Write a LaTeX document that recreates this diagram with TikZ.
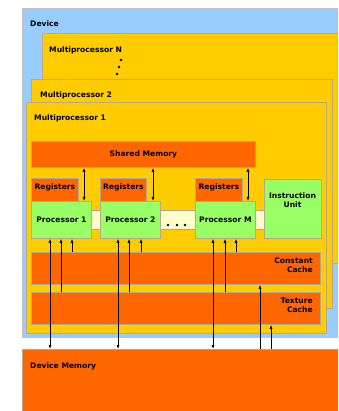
\documentclass[tikz,border=0pt]{standalone}
\usepackage{fontspec}
\setmainfont{DejaVu Sans}
\usetikzlibrary{arrows.meta}
\definecolor{devblue}{HTML}{99CCFF}
\definecolor{mpyellow}{HTML}{FFCC00}
\definecolor{memorange}{HTML}{FF6600}
\definecolor{procgreen}{HTML}{99FF66}
\definecolor{barcream}{HTML}{FFFFCC}
\definecolor{edgecol}{RGB}{184,168,136}
\definecolor{devedge}{RGB}{192,192,192}
\begin{document}
\begin{tikzpicture}[x=1pt,y=-1pt,
  lbl/.style={font=\fontsize{7.6}{9.2}\selectfont\bfseries, inner sep=0pt},
  panel/.style={draw=edgecol, line width=0.8pt, inner sep=0pt, anchor=north west},
  mem/.style={panel, fill=memorange},
  proc/.style={panel, fill=procgreen, font=\fontsize{7.6}{9.2}\selectfont\bfseries},
  dotmark/.style={circle, fill=black, inner sep=0pt, minimum size=2.6pt},
  tip/.style={-{Latex[length=4pt,width=3pt]}},
  dbl/.style={{Latex[length=4pt,width=3pt]}-{Latex[length=4pt,width=3pt]}, line width=0.7pt},
  up/.style={tip, line width=0.7pt}]
\useasboundingbox (0,0) rectangle (338,411);
\clip (0,0) rectangle (338,411);

% device and the stacked multiprocessors (running off the right edge)
\node[panel, draw=devedge, fill=devblue, minimum width=400pt, minimum height=329pt] (dev) at (22,8) {};
\node[lbl, anchor=base west] (tdev) at (30,27) {Device};
\node[panel, fill=mpyellow, minimum width=400pt, minimum height=230pt] (mpn) at (42,33) {};
\node[lbl, anchor=base west] (tmpn) at (49,52.5) {Multiprocessor N};
\node[dotmark] (v1) at (121,60) {};
\node[dotmark] (v2) at (119,67) {};
\node[dotmark] (v3) at (117,74) {};
\node[panel, fill=mpyellow, minimum width=301pt, minimum height=229pt] (mp2) at (31,79) {};
\node[lbl, anchor=base west] (tmp2) at (40,97.5) {Multiprocessor 2};
\node[panel, fill=mpyellow, minimum width=300pt, minimum height=231pt] (mp1) at (26,102) {};
\node[lbl, anchor=base west] (tmp1) at (34,120.5) {Multiprocessor 1};

% shared memory
\node[mem, minimum width=224pt, minimum height=26pt] (sm) at (31,141) {};
\node[lbl] (tsm) at (sm.center) {Shared Memory};

% processor bus
\node[panel, fill=barcream, minimum width=173pt, minimum height=19pt] (bus) at (91,210) {};
\node[dotmark] (b1) at (168,225) {};
\node[dotmark] (b2) at (177,225) {};
\node[dotmark] (b3) at (185,225) {};

% registers and processors
\node[mem, minimum width=47pt, minimum height=23pt] (r1) at (31,178) {};
\node[mem, minimum width=46pt, minimum height=23pt] (r2) at (100,178) {};
\node[mem, minimum width=47pt, minimum height=23pt] (rm) at (195,178) {};
\node[lbl] (tr1) at ([yshift=2pt]r1.center) {Registers};
\node[lbl] (tr2) at ([yshift=2pt]r2.center) {Registers};
\node[lbl] (trm) at ([yshift=2pt]rm.center) {Registers};
\node[proc, minimum width=60pt, minimum height=37pt] (p1) at (31,201) {Processor 1};
\node[proc, minimum width=60pt, minimum height=37pt] (p2) at (100,201) {Processor 2};
\node[proc, minimum width=60pt, minimum height=37pt] (pm) at (195,201) {Processor M};
\node[panel, fill=procgreen, minimum width=57pt, minimum height=59pt] (iu) at (264,179) {};
\node[lbl, align=center] (tiu) at (292.5,200.5) {Instruction\\Unit};

% caches
\node[mem, minimum width=289pt, minimum height=32pt] (cc) at (31,252) {};
\node[lbl, align=right, anchor=north east] (tcc) at (313,257.5) {Constant\\Cache};
\node[mem, minimum width=289pt, minimum height=32pt] (tc) at (31,292) {};
\node[lbl, align=right, anchor=north east] (ttc) at (313,297.5) {Texture\\Cache};

% device memory (running off the right and bottom edges)
\node[panel, fill=memorange, minimum width=400pt, minimum height=100pt] (dm) at (22,349) {};
\node[lbl, anchor=base west] (tdm) at (30,368) {Device Memory};

% column positions of the connectors
\coordinate (s1) at (84,0);
\coordinate (s2) at (153,0);
\coordinate (s3) at (248,0);
\coordinate (c1) at (50,0);
\coordinate (c2) at (61,0);
\coordinate (c3) at (72,0);
\coordinate (c4) at (118,0);
\coordinate (c5) at (129,0);
\coordinate (c6) at (141,0);
\coordinate (c7) at (213,0);
\coordinate (c8) at (225,0);
\coordinate (c9) at (236,0);
\coordinate (d1) at (260,0);
\coordinate (d2) at (271,0);

% shared memory <-> processors
\draw[dbl] (s1 |- sm.south) -- (s1 |- p1.north);
\draw[dbl] (s2 |- sm.south) -- (s2 |- p2.north);
\draw[dbl] (s3 |- sm.south) -- (s3 |- pm.north);

% processors <-> device memory, caches -> processors
\draw[dbl] (c1 |- p1.south) -- (c1 |- dm.north);
\draw[up] (c2 |- tc.north) -- (c2 |- p1.south);
\draw[up] (c3 |- cc.north) -- (c3 |- p1.south);
\draw[dbl] (c4 |- p2.south) -- (c4 |- dm.north);
\draw[up] (c5 |- tc.north) -- (c5 |- p2.south);
\draw[up] (c6 |- cc.north) -- (c6 |- p2.south);
\draw[dbl] (c7 |- pm.south) -- (c7 |- dm.north);
\draw[up] (c8 |- tc.north) -- (c8 |- pm.south);
\draw[up] (c9 |- cc.north) -- (c9 |- pm.south);

% device memory -> caches
\draw[up] (d1 |- dm.north) -- (d1 |- cc.south);
\draw[up] (d2 |- dm.north) -- (d2 |- tc.south);
\end{tikzpicture}
\end{document}
